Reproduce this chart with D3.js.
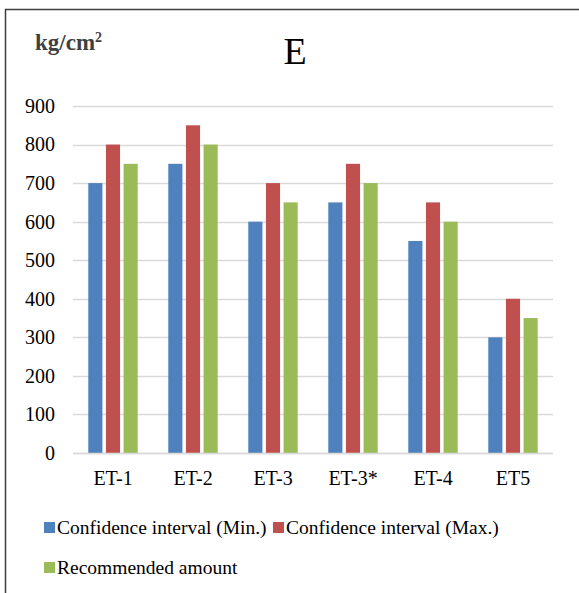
<!DOCTYPE html>
<html>
<head>
<meta charset="utf-8">
<script src="https://cdn.jsdelivr.net/npm/d3@7"></script>
<style>
  html, body { margin: 0; padding: 0; background: #fff; }
  svg { display: block; }
  text { font-family: "Liberation Serif", "Times New Roman", serif; }
</style>
</head>
<body>
<svg id="chart" width="579" height="593"></svg>
<script>
// Chart data
const categories = ["ET-1", "ET-2", "ET-3", "ET-3*", "ET-4", "ET5"];
const seriesNames = ["Confidence interval (Min.)", "Confidence interval (Max.)", "Recommended amount"];
const minValues = [700, 750, 600, 650, 550, 300];
const maxValues = [800, 850, 700, 750, 650, 400];
const recommendedValues = [750, 800, 650, 700, 600, 350];
const yTicks = [0, 100, 200, 300, 400, 500, 600, 700, 800, 900];
const seriesColors = ["#4f81bd", "#c0504d", "#9bbb59"];

const seriesValues = [minValues, maxValues, recommendedValues];

const svg = d3.select("#chart");
const W = 579, H = 593;

// Outer frame (runs off the right and bottom edges)
svg.append("rect")
  .attr("x", 5.5).attr("y", 9.5)
  .attr("width", W + 10).attr("height", H + 10)
  .attr("fill", "#fff").attr("stroke", "#3f3f3f").attr("stroke-width", 1.5);

const plot = { left: 73, right: 553, top: 106, bottom: 453 };

const x = d3.scaleBand().domain(categories).range([plot.left, plot.right]).padding(0);
const y = d3.scaleLinear().domain([0, 900]).range([plot.bottom, plot.top]);

const inner = d3.scaleBand().domain(d3.range(seriesNames.length))
  .range([15.3, x.bandwidth() - 15.3]).paddingInner(0.2);

// Gridlines
svg.append("g").selectAll("line").data(yTicks).join("line")
  .attr("x1", plot.left).attr("x2", plot.right)
  .attr("y1", d => Math.round(y(d)) + 0.5).attr("y2", d => Math.round(y(d)) + 0.5)
  .attr("stroke", "#d9d9d9").attr("stroke-width", 1.5);

// Y axis labels
const yAxis = d3.axisLeft(y).tickValues(yTicks).tickSize(0).tickPadding(0);
const gy = svg.append("g").attr("transform", `translate(${plot.left - 18},0)`).call(yAxis);
gy.select(".domain").remove();
gy.selectAll("text")
  .attr("font-size", 20).attr("fill", "#000").attr("dy", "0.32em");

// Bars
const groups = svg.append("g").selectAll("g").data(categories).join("g")
  .attr("transform", d => `translate(${x(d)},0)`);

groups.selectAll("rect")
  .data((d, i) => seriesValues.map((vals, s) => ({ s, v: vals[i] })))
  .join("rect")
  .attr("x", d => inner(d.s))
  .attr("width", inner.bandwidth())
  .attr("y", d => y(d.v))
  .attr("height", d => y(0) - y(d.v))
  .attr("fill", d => seriesColors[d.s]);

// Baseline
svg.append("line")
  .attr("x1", plot.left).attr("x2", plot.right)
  .attr("y1", plot.bottom + 0.5).attr("y2", plot.bottom + 0.5)
  .attr("stroke", "#d9d9d9").attr("stroke-width", 1.5);

// X axis labels
const xAxis = d3.axisBottom(x).tickSize(0).tickPadding(0);
const gx = svg.append("g").attr("transform", `translate(0,${plot.bottom + 32})`).call(xAxis);
gx.select(".domain").remove();
gx.selectAll("text")
  .attr("font-size", 20).attr("fill", "#000").attr("dy", 0);

// Title
svg.append("text").attr("x", 295).attr("y", 64)
  .attr("text-anchor", "middle").attr("font-size", 38).attr("fill", "#000")
  .text("E");

// Unit label
const unit = svg.append("text").attr("x", 35).attr("y", 50)
  .attr("font-size", 23).attr("font-weight", "bold").attr("fill", "#404040");
unit.append("tspan").text("kg/cm");
unit.append("tspan").attr("font-size", 14).attr("dy", -8).text("2");

// Legend
const legendItems = [
  { i: 0, x: 44, y: 522 },
  { i: 1, x: 273, y: 522 },
  { i: 2, x: 44, y: 562 }
];
const legend = svg.append("g").selectAll("g").data(legendItems).join("g")
  .attr("transform", d => `translate(${d.x},${d.y})`);
legend.append("rect").attr("width", 11).attr("height", 11)
  .attr("fill", d => seriesColors[d.i]);
legend.append("text").attr("x", 13).attr("y", 12)
  .attr("font-size", 19.5).attr("fill", "#000")
  .text(d => seriesNames[d.i]);
</script>
</body>
</html>
